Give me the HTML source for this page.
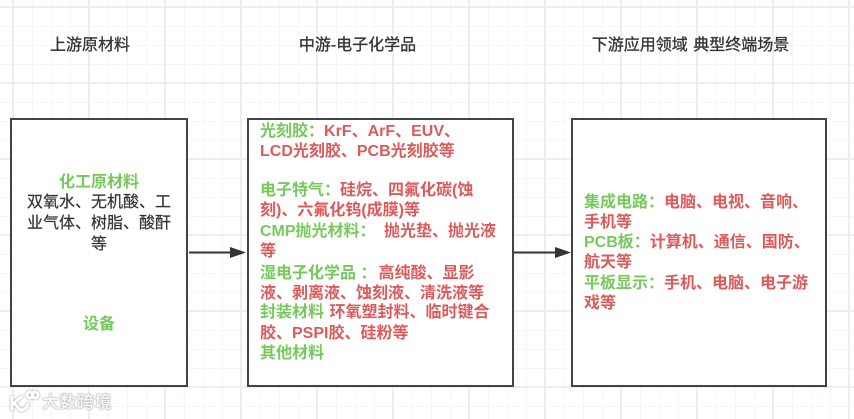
<!DOCTYPE html>
<html lang="zh"><head><meta charset="utf-8"><style>
html,body{margin:0;padding:0;width:854px;height:419px;overflow:hidden;background:#fff}
#c{position:relative;width:854px;height:419px;overflow:hidden;font-family:"Liberation Sans","Noto Sans CJK SC",sans-serif;font-size:16px;filter:blur(.25px);
background-color:#fff;
background-image:linear-gradient(#eeeeee 0 2px,transparent 2px),linear-gradient(90deg,#eeeeee 0 2px,transparent 2px),linear-gradient(#f6f6f6 0 1px,transparent 1px),linear-gradient(90deg,#f6f6f6 0 1px,transparent 1px);
background-size:76px 76px,76px 76px,19px 19px,19px 19px;background-position:0 6px,12px 0,0 7px,13px 0}
.b{position:absolute;box-sizing:border-box;background:#fff;border:2px solid #3f4447;top:118px;height:269px}
.t{position:absolute;white-space:nowrap;line-height:20px;height:20px;font-weight:700;color:#dc5a5a;margin-top:4px}
.g{color:#76c95b}
.k{color:#333;font-weight:400;-webkit-text-stroke:.2px #333}
.h{color:#333;font-weight:400;-webkit-text-stroke:.3px #333}
.ct{transform:translateX(-50%)}
.w{position:absolute;left:42px;top:392px;font-size:17px;line-height:22px;color:#f6f6f6;letter-spacing:.5px;font-weight:700;text-shadow:0 0 1.5px #999,0 0 1px #999}
</style></head><body><div id="c">
<div class="t h ct" style="left:90px;top:32px">上游原材料</div>
<div class="t h ct" style="left:357.5px;top:32px">中游-电子化学品</div>
<div class="t h ct" style="left:690.5px;top:32px;word-spacing:1px">下游应用领域 典型终端场景</div>

<div class="b" style="left:10px;width:178px"></div>
<div class="b" style="left:247px;width:267px"></div>
<div class="b" style="left:571px;width:256px"></div>

<svg style="position:absolute;left:0;top:0" width="854" height="419">
<path d="M189 252.5H232" stroke="#333" stroke-width="2" fill="none"/><path d="M230 247L246 252.5L230 258Z" fill="#333"/>
<path d="M514 252.5H556" stroke="#333" stroke-width="2" fill="none"/><path d="M555 247L571 252.5L555 258Z" fill="#333"/>
<g fill="none" stroke="#fff" stroke-width="3" style="filter:drop-shadow(0 0 1px #888)"><path d="M12 396V410M22 396L14 403L20 410Q27 410 28 403"/><circle cx="30" cy="395" r="3"/><circle cx="35" cy="395" r="3"/></g>
</svg>

<div class="t g ct" style="left:99px;top:169px">化工原材料</div>
<div class="t k ct" style="left:99px;top:189px">双氧水、无机酸、工</div>
<div class="t k ct" style="left:99px;top:210px">业气体、树脂、酸酐</div>
<div class="t k ct" style="left:99px;top:231px">等</div>
<div class="t g ct" style="left:99px;top:311px">设备</div>

<div class="t" style="left:260px;top:118px"><span class="g">光刻胶：</span>KrF、ArF、EUV、</div>
<div class="t" style="left:260px;top:138px">LCD光刻胶、PCB光刻胶等</div>
<div class="t" style="left:260px;top:177px"><span class="g">电子特气：</span>硅烷、四氟化碳(蚀</div>
<div class="t" style="left:260px;top:197px">刻)、六氟化钨(成膜)等</div>
<div class="t" style="left:260px;top:218px"><span class="g">CMP抛光材料：</span> <span style="margin-left:4px">抛光垫、抛光液</span></div>
<div class="t" style="left:260px;top:238px">等</div>
<div class="t" style="left:260px;top:260px"><span class="g">湿电子化学品 ：</span><span style="margin-left:2px">高纯酸、显影</span></div>
<div class="t" style="left:260px;top:280px">液、剥离液、蚀刻液、清洗液等</div>
<div class="t" style="left:260px;top:299px"><span class="g">封装材料</span> <span style="margin-left:1px">环氧塑封料、临时键合</span></div>
<div class="t" style="left:260px;top:320px">胶、PSPI胶、硅粉等</div>
<div class="t g" style="left:260px;top:340px">其他材料</div>

<div class="t" style="left:584px;top:189px"><span class="g">集成电路：</span>电脑、电视、音响、</div>
<div class="t" style="left:584px;top:209px">手机等</div>
<div class="t" style="left:584px;top:229px"><span class="g">PCB板：</span>计算机、通信、国防、</div>
<div class="t" style="left:584px;top:249px">航天等</div>
<div class="t" style="left:584px;top:270px"><span class="g">平板显示：</span>手机、电脑、电子游</div>
<div class="t" style="left:584px;top:290px">戏等</div>

<div class="w">大数跨境</div>
</div></body></html>
